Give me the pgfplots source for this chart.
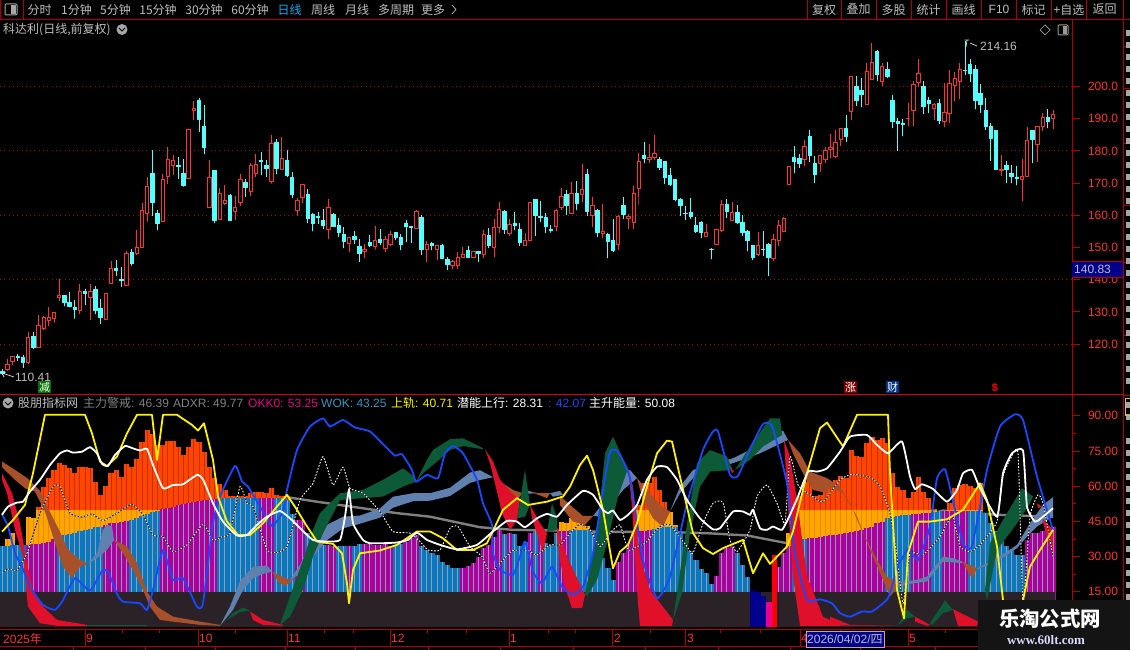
\documentclass[border=0pt]{standalone}
\usepackage{pgfplots}
\usepackage{pgfplotstable}
\usepackage{fontspec}
\pgfplotsset{compat=1.18}
\setmainfont{Liberation Sans}
\newfontfamily\cjk{Noto Sans CJK SC}
\definecolor{cr}{HTML}{FF3232}
\definecolor{cy}{HTML}{54FFFF}
\definecolor{fr}{HTML}{B00000}
\definecolor{lab}{HTML}{FF3030}
\definecolor{txt}{HTML}{BEBEBE}
\definecolor{rstripe}{HTML}{C03000}
\definecolor{rtop}{HTML}{FF4500}
\definecolor{ora}{HTML}{FFA500}
\definecolor{orb}{HTML}{E88A00}
\definecolor{bbar}{HTML}{0A78C0}
\definecolor{mbar}{HTML}{AC00A0}
\definecolor{stripe}{HTML}{8FA0AC}
\definecolor{base}{HTML}{2B2228}
\definecolor{rred}{HTML}{E0102A}
\definecolor{rgreen}{HTML}{0C5A38}
\definecolor{steel}{HTML}{6080B0}
\definecolor{brown}{HTML}{A8502A}
\definecolor{gline}{HTML}{808080}
\definecolor{bline}{HTML}{1848FF}
% candle: index, body top, body bottom, high, low
\newcommand\cd[7]{%
 \pgfmathsetmacro\xc{2.33+5.176*#3}\pgfmathsetmacro\xl{\xc-1.7}\pgfmathsetmacro\xr{\xc+1.7}%
 \addplot[draw=#1,fill=#2,line width=1pt,line join=bevel] coordinates {(\xc,#6)(\xc,#4)(\xr,#4)(\xr,#5)(\xc,#5)(\xc,#7)(\xc,#5)(\xl,#5)(\xl,#4)(\xc,#4)};}
\newcommand\R[5]{\cd{cr}{black}{#1}{#2}{#3}{#4}{#5}}
\newcommand\C[5]{\cd{cy}{cy}{#1}{#2}{#3}{#4}{#5}}
\newcommand\rib[2]{\addplot[fill=#1,draw=none] coordinates {#2} --cycle;}
\pgfplotstableread{
i T L k
0 34.3 34.3 0
1 37.4 34.5 0
2 39.9 34.8 0
3 35.0 35.0 0
4 35.0 35.0 0
5 47.0 35.0 1
6 46.3 35.3 1
7 51.3 35.4 1
8 59.8 35.7 1
9 63.4 36.2 1
10 66.9 37.4 1
11 69.8 38.8 0
12 69.1 39.2 0
13 67.6 39.7 0
14 65.5 40.2 0
15 68.1 40.8 0
16 68.1 41.2 0
17 67.6 41.8 0
18 61.7 42.4 0
19 56.3 42.8 0
20 60.1 43.5 1
21 65.5 44.1 1
22 66.9 44.3 1
23 63.8 44.8 1
24 69.5 45.1 1
25 68.1 45.6 0
26 71.5 46.5 0
27 79.0 47.3 0
28 84.0 48.2 0
29 82.1 48.9 0
30 77.6 49.5 0
31 77.6 50.2 1
32 79.3 50.7 1
33 79.3 51.3 1
34 76.9 51.9 1
35 73.3 52.3 1
36 76.6 52.7 1
37 80.1 53.1 1
38 79.0 53.6 1
39 74.7 54.0 1
40 68.3 54.3 1
41 63.4 54.6 1
42 61.0 54.7 0
43 58.4 54.9 0
44 55.6 55.0 0
45 55.6 55.1 0
46 55.8 55.1 0
47 55.8 55.1 0
48 57.0 55.1 0
49 57.4 55.1 0
50 57.4 55.1 1
51 57.0 55.1 1
52 59.1 55.1 1
53 56.1 55.1 0
54 55.8 54.9 0
55 55.3 54.1 0
56 48.2 48.2 0
57 45.6 45.6 1
58 45.6 45.6 1
59 39.9 39.9 0
60 35.4 35.4 0
61 35.0 35.0 0
62 35.0 35.0 0
63 35.0 35.0 1
64 34.5 34.5 1
65 34.5 34.5 0
66 34.5 34.5 0
67 34.5 34.5 1
68 34.5 34.5 0
69 35.4 35.4 0
70 35.4 35.4 1
71 35.3 35.3 1
72 34.8 34.8 1
73 35.0 35.0 1
74 35.4 35.4 1
75 34.5 34.5 1
76 35.0 35.0 0
77 35.4 35.4 0
78 36.4 36.4 1
79 37.8 37.8 1
80 39.2 39.2 1
81 34.3 34.3 0
82 32.6 32.6 0
83 31.7 31.7 0
84 30.7 30.7 0
85 27.9 27.9 0
86 26.5 26.5 0
87 25.3 25.3 0
88 25.0 25.0 0
89 25.3 25.3 1
90 26.0 26.0 1
91 27.2 27.2 1
92 30.0 30.0 1
93 33.6 33.6 1
94 35.0 35.0 1
95 38.5 38.5 1
96 41.4 41.4 1
97 39.7 39.7 0
98 39.9 39.9 1
99 39.7 39.7 0
100 34.3 34.3 0
101 36.4 36.4 0
102 40.2 40.2 1
103 40.7 40.7 0
104 38.5 38.5 1
105 35.7 35.7 0
106 35.0 35.0 0
107 39.9 39.9 0
108 44.6 41.1 1
109 44.2 41.1 1
110 46.3 41.2 0
111 45.3 41.4 0
112 44.2 41.4 0
113 43.2 41.4 0
114 39.9 39.9 0
115 31.4 31.4 0
116 29.3 29.3 0
117 25.0 25.0 0
118 20.1 20.1 0
119 27.9 27.9 1
120 31.4 31.4 1
121 35.7 35.7 1
122 39.9 39.9 1
123 52.0 40.7 1
124 61.2 40.9 1
125 61.2 41.4 1
126 64.1 41.6 0
127 58.4 42.1 0
128 53.4 42.5 0
129 49.2 42.8 0
130 43.5 42.8 0
131 39.9 39.9 0
132 34.0 34.0 0
133 32.4 32.4 0
134 28.6 28.6 0
135 24.6 24.6 0
136 22.9 22.9 0
137 18.4 18.4 0
138 21.8 21.8 1
139 31.4 31.4 1
140 33.6 33.6 1
141 34.3 34.3 1
142 31.4 31.4 0
143 26.5 26.5 0
144 21.5 21.5 0
145 0 0 0
146 0 0 0
147 0 0 0
148 0 0 0
149 0 0 0
150 25.7 25.7 1
151 31.4 31.4 1
152 39.9 34.3 1
153 44.9 37.1 0
154 55.6 37.1 0
155 61.9 37.5 0
156 64.1 37.8 1
157 55.6 38.1 1
158 56.3 38.5 1
159 59.5 38.8 1
160 59.5 39.1 1
161 62.7 39.4 1
162 64.4 39.7 1
163 63.4 39.9 1
164 75.4 40.4 1
165 72.9 40.8 1
166 72.6 41.4 1
167 78.3 42.1 1
168 81.1 42.8 1
169 79.7 44.2 1
170 80.4 44.9 1
171 78.3 46.3 0
172 65.5 47.0 0
173 59.8 47.3 0
174 58.4 47.6 0
175 54.9 47.8 0
176 57.7 48.2 1
177 63.8 48.3 1
178 57.7 48.5 1
179 54.9 48.7 1
180 50.2 49.2 0
181 49.6 49.3 0
182 49.6 49.6 1
183 52.7 49.6 1
184 59.1 49.6 1
185 60.5 49.6 1
186 61.0 49.6 1
187 60.1 49.6 0
188 59.1 49.6 0
189 61.2 49.6 0
190 48.5 48.5 0
191 44.2 44.2 0
192 40.7 40.7 0
193 37.8 37.8 0
194 34.3 34.3 0
195 32.8 32.8 0
196 30.7 30.7 0
197 30.7 30.7 0
198 37.1 37.1 1
199 39.9 39.9 1
200 40.2 40.2 1
201 40.7 40.7 1
202 42.1 42.1 1
203 42.8 42.8 1
}\bars
\begin{document}
\begin{tikzpicture}[x=1pt,y=1pt]
\path[use as bounding box] (0,0) rectangle (1130,650);
\fill[black] (0,0) rectangle (1130,650);
%%%%% price panel
\begin{axis}[at={(0pt,257pt)},anchor=south west,scale only axis,width=1072pt,height=373pt,
 xmin=0,xmax=1072,ymin=104.81,ymax=220.65,
 axis y line=right,axis x line=none,axis line style={-,draw=none},
 xtick=\empty,ytick={120,130,...,200},
 tick style={fr,line width=.8pt},major tick length=8pt,tick align=outside,
 yticklabel style={text=lab,font=\fontsize{12}{12}\selectfont,xshift=4.5pt},
 /pgf/number format/assume math mode=true,
 /pgf/number format/fixed,/pgf/number format/fixed zerofill,/pgf/number format/precision=1]
\foreach \v in {120,140,160,180,200}{
 \edef\tmp{\noexpand\addplot[color=fr,line width=.8pt,dash pattern=on 1pt off 3.3pt] coordinates {(0,\v)(1072,\v)};}\tmp}
\C{0}{111.6}{110.9}{112.2}{110.4}
\R{1}{113.7}{112.2}{115.3}{111.7}
\R{2}{116.0}{114.5}{116.4}{113.5}
\C{3}{116.1}{115.9}{116.8}{114.8}
\C{4}{115.7}{114.4}{116.5}{112.6}
\R{5}{122.1}{114.2}{123.6}{113.8}
\C{6}{122.5}{118.8}{123.6}{118.5}
\R{7}{125.8}{118.9}{129.0}{118.9}
\R{8}{128.3}{124.8}{128.7}{124.4}
\R{9}{128.3}{127.3}{131.4}{125.6}
\R{10}{129.9}{128.0}{129.9}{126.7}
\R{11}{135.1}{134.4}{140.1}{133.4}
\C{12}{135.2}{132.8}{135.2}{131.8}
\C{13}{133.0}{131.8}{136.2}{131.5}
\C{14}{131.4}{130.7}{133.7}{127.9}
\R{15}{136.4}{130.5}{138.6}{129.3}
\C{16}{136.2}{135.7}{137.2}{132.1}
\R{17}{136.4}{134.4}{138.6}{127.5}
\C{18}{137.0}{130.4}{137.9}{129.3}
\C{19}{131.1}{128.4}{133.9}{126.3}
\R{20}{135.8}{127.6}{135.8}{127.6}
\R{21}{143.5}{138.9}{145.7}{138.7}
\C{22}{143.6}{143.0}{146.1}{141.1}
\C{23}{140.2}{139.7}{143.9}{137.8}
\R{24}{148.2}{138.1}{148.8}{138.1}
\C{25}{148.3}{144.9}{149.4}{144.4}
\R{26}{150.0}{148.1}{155.4}{147.7}
\R{27}{161.5}{149.9}{163.8}{149.9}
\R{28}{169.0}{160.5}{171.8}{158.0}
\C{29}{173.1}{163.9}{180.2}{159.8}
\C{30}{160.7}{157.3}{161.5}{155.4}
\R{31}{171.2}{158.0}{172.8}{158.0}
\R{32}{177.4}{172.0}{181.2}{169.7}
\R{33}{177.1}{175.4}{178.7}{172.5}
\C{34}{175.6}{175.0}{178.1}{171.3}
\C{35}{173.1}{169.4}{177.5}{168.9}
\R{36}{186.7}{171.4}{186.7}{171.4}
\R{37}{193.2}{192.5}{195.5}{189.6}
\C{38}{195.5}{189.9}{196.3}{185.9}
\C{39}{187.7}{180.9}{194.2}{179.0}
\R{40}{171.6}{162.4}{177.2}{162.4}
\C{41}{173.9}{158.5}{174.1}{157.6}
\R{42}{166.8}{158.6}{168.5}{158.6}
\R{43}{164.6}{163.8}{169.4}{163.2}
\C{44}{166.0}{158.5}{166.6}{158.3}
\R{45}{162.5}{161.1}{166.0}{158.5}
\R{46}{171.2}{163.9}{172.8}{162.9}
\C{47}{170.3}{168.5}{171.2}{165.7}
\R{48}{175.5}{167.3}{176.1}{166.0}
\R{49}{175.9}{172.9}{179.0}{171.9}
\C{50}{177.0}{176.7}{179.6}{172.5}
\C{51}{175.6}{174.4}{177.2}{171.9}
\R{52}{182.4}{170.4}{184.9}{169.8}
\C{53}{182.5}{174.4}{183.7}{172.8}
\R{54}{177.7}{174.2}{184.2}{174.2}
\C{55}{177.1}{172.5}{180.3}{171.9}
\C{56}{171.6}{166.6}{173.4}{165.4}
\R{57}{164.7}{161.4}{165.3}{159.9}
\R{58}{169.6}{165.4}{169.6}{163.8}
\C{59}{166.3}{158.9}{168.2}{157.6}
\C{60}{160.1}{157.3}{160.7}{155.1}
\C{61}{159.5}{159.3}{161.0}{157.3}
\C{62}{158.5}{156.7}{162.0}{155.7}
\R{63}{162.5}{155.5}{165.0}{152.6}
\C{64}{160.1}{156.4}{160.7}{156.4}
\C{65}{156.7}{154.5}{159.2}{153.3}
\C{66}{153.9}{152.0}{156.4}{149.8}
\R{67}{153.2}{151.1}{153.2}{148.6}
\C{68}{153.3}{152.6}{155.1}{151.1}
\C{69}{150.2}{148.0}{152.6}{145.5}
\R{70}{149.4}{148.7}{151.1}{146.7}
\C{71}{151.7}{150.5}{153.9}{150.2}
\R{72}{152.2}{150.2}{156.7}{149.2}
\C{73}{152.6}{151.4}{155.7}{150.8}
\R{74}{152.5}{149.8}{153.6}{148.6}
\R{75}{154.1}{150.8}{155.0}{150.5}
\C{76}{154.5}{153.0}{154.8}{152.3}
\C{77}{153.0}{150.8}{154.2}{149.2}
\C{78}{157.6}{156.4}{158.5}{151.7}
\C{79}{156.4}{156.2}{156.7}{151.4}
\R{80}{161.3}{155.8}{161.6}{155.8}
\C{81}{159.2}{149.5}{160.1}{147.7}
\R{82}{151.0}{149.3}{151.9}{145.5}
\C{83}{151.1}{150.5}{151.7}{149.2}
\R{84}{150.7}{149.3}{150.7}{146.1}
\C{85}{150.5}{146.7}{151.1}{146.4}
\C{86}{146.4}{144.6}{147.0}{143.0}
\R{87}{145.8}{144.3}{146.1}{143.3}
\R{88}{147.0}{144.4}{148.6}{143.3}
\R{89}{147.9}{147.0}{150.2}{146.7}
\C{90}{149.2}{147.0}{150.5}{146.7}
\R{91}{148.6}{146.8}{148.9}{146.7}
\C{92}{148.6}{148.0}{148.9}{145.5}
\R{93}{154.1}{147.8}{155.4}{146.7}
\C{94}{153.6}{150.5}{156.1}{149.8}
\R{95}{156.3}{150.0}{158.9}{147.0}
\R{96}{161.8}{156.2}{164.1}{154.5}
\C{97}{161.3}{155.5}{161.6}{154.2}
\R{98}{157.2}{154.2}{158.9}{153.6}
\C{99}{157.3}{156.7}{161.0}{155.4}
\C{100}{155.7}{151.7}{157.6}{150.5}
\R{101}{152.2}{150.6}{154.5}{150.6}
\R{102}{164.1}{152.3}{164.1}{152.3}
\C{103}{164.8}{159.8}{164.8}{153.6}
\C{104}{159.5}{159.2}{164.4}{157.9}
\C{105}{159.2}{156.4}{160.7}{154.5}
\C{106}{155.7}{155.2}{157.0}{154.5}
\R{107}{161.6}{156.5}{161.9}{155.1}
\R{108}{165.9}{162.4}{168.5}{161.6}
\C{109}{166.3}{162.9}{167.9}{160.1}
\R{110}{166.8}{160.5}{170.3}{160.4}
\C{111}{166.9}{163.8}{170.6}{161.6}
\R{112}{167.9}{166.4}{175.9}{164.1}
\C{113}{172.8}{161.3}{174.4}{159.8}
\R{114}{162.9}{159.9}{165.7}{156.4}
\C{115}{161.6}{154.8}{161.9}{153.3}
\R{116}{155.0}{154.3}{163.5}{152.9}
\C{117}{153.9}{152.0}{154.5}{146.7}
\C{118}{152.3}{149.2}{158.9}{148.6}
\R{119}{159.5}{150.8}{160.1}{149.2}
\C{120}{162.9}{160.1}{165.7}{158.9}
\R{121}{159.5}{158.9}{160.4}{155.7}
\R{122}{166.9}{157.7}{169.1}{155.7}
\R{123}{176.8}{168.2}{179.3}{163.2}
\C{124}{178.7}{177.5}{182.8}{176.2}
\R{125}{178.1}{177.3}{182.1}{176.2}
\R{126}{179.3}{177.9}{184.9}{177.2}
\C{127}{177.2}{174.7}{178.1}{174.1}
\C{128}{176.6}{171.6}{176.6}{169.7}
\C{129}{172.5}{169.7}{174.7}{169.1}
\C{130}{171.0}{164.8}{171.0}{164.4}
\C{131}{164.8}{162.9}{165.4}{159.8}
\C{132}{160.7}{160.4}{162.9}{158.5}
\C{133}{161.0}{159.5}{165.4}{158.9}
\C{134}{156.7}{155.1}{159.5}{154.5}
\C{135}{157.9}{154.5}{158.2}{152.9}
\R{136}{154.5}{153.3}{157.3}{153.3}
\C{137}{149.5}{149.4}{149.8}{146.4}
\R{138}{155.7}{150.8}{155.7}{150.8}
\R{139}{163.2}{155.4}{164.8}{154.8}
\C{140}{163.2}{161.3}{165.0}{159.2}
\R{141}{161.0}{158.5}{164.1}{158.5}
\C{142}{161.0}{157.9}{163.2}{157.3}
\C{143}{157.9}{154.8}{160.1}{153.6}
\C{144}{155.1}{152.3}{155.4}{148.9}
\C{145}{150.5}{147.0}{150.8}{146.1}
\R{146}{150.5}{147.7}{154.8}{147.4}
\C{147}{149.5}{149.3}{155.1}{147.4}
\C{148}{150.8}{147.0}{151.4}{141.2}
\R{149}{152.6}{146.7}{154.2}{145.8}
\R{150}{156.7}{152.3}{158.5}{150.5}
\R{151}{158.9}{154.9}{159.5}{154.8}
\R{152}{175.0}{169.7}{175.0}{169.7}
\C{153}{177.8}{176.6}{181.5}{173.1}
\C{154}{177.5}{176.2}{179.0}{174.7}
\R{155}{181.5}{177.2}{183.4}{175.3}
\C{156}{184.6}{178.7}{186.5}{176.6}
\C{157}{176.2}{172.8}{178.4}{170.0}
\R{158}{178.6}{176.2}{178.6}{173.5}
\R{159}{180.2}{177.2}{181.2}{176.2}
\R{160}{181.2}{180.3}{185.3}{177.8}
\R{161}{182.5}{178.4}{186.5}{177.8}
\R{162}{186.8}{183.4}{186.8}{181.5}
\C{163}{186.8}{184.6}{191.2}{182.8}
\R{164}{203.2}{192.1}{203.2}{189.6}
\C{165}{199.9}{195.8}{203.3}{194.0}
\C{166}{198.9}{197.4}{202.6}{193.6}
\R{167}{204.8}{194.3}{207.3}{194.3}
\R{168}{207.3}{202.3}{213.5}{202.3}
\C{169}{211.0}{203.6}{211.3}{201.7}
\R{170}{206.1}{201.7}{207.3}{200.2}
\C{171}{205.4}{203.0}{207.6}{202.6}
\C{172}{195.8}{189.0}{197.4}{187.1}
\C{173}{189.0}{188.4}{190.2}{180.0}
\C{174}{188.4}{188.2}{189.9}{184.6}
\R{175}{190.2}{190.0}{194.9}{187.7}
\R{176}{200.7}{192.4}{201.7}{187.7}
\R{177}{203.9}{201.1}{208.5}{199.9}
\C{178}{199.9}{193.9}{201.7}{191.5}
\C{179}{195.8}{194.6}{196.7}{191.8}
\R{180}{194.3}{193.3}{194.9}{189.6}
\C{181}{194.6}{189.3}{196.1}{188.4}
\R{182}{192.0}{189.0}{201.1}{187.4}
\R{183}{200.8}{191.5}{205.1}{188.7}
\R{184}{202.6}{200.2}{204.5}{195.5}
\R{185}{205.4}{201.4}{207.3}{196.1}
\C{186}{205.1}{204.9}{214.16}{203.6}
\C{187}{206.7}{203.9}{208.5}{201.4}
\C{188}{205.4}{195.5}{206.7}{193.0}
\C{189}{197.7}{194.3}{200.8}{191.8}
\C{190}{192.4}{187.7}{196.4}{186.5}
\C{191}{187.7}{184.0}{188.7}{176.9}
\C{192}{186.2}{174.1}{186.5}{174.1}
\R{193}{174.1}{173.9}{178.7}{172.2}
\C{194}{175.6}{174.1}{176.9}{170.0}
\C{195}{173.1}{171.9}{175.6}{170.0}
\C{196}{171.6}{171.4}{175.3}{169.4}
\R{197}{172.1}{171.1}{177.5}{164.4}
\R{198}{183.3}{172.0}{187.4}{172.0}
\C{199}{186.2}{183.4}{186.2}{176.2}
\R{200}{187.6}{182.0}{187.6}{176.6}
\R{201}{190.4}{187.6}{191.8}{186.2}
\C{202}{190.5}{189.0}{193.0}{187.1}
\R{203}{191.4}{190.0}{192.7}{186.8}
\end{axis}
%%%%% indicator panel
\begin{axis}[at={(0pt,23pt)},anchor=south west,scale only axis,width=1072pt,height=231pt,
 xmin=0,xmax=1072,ymin=0,ymax=98.42,
 axis y line=right,axis x line=none,axis line style={-,draw=none},
 xtick=\empty,ytick={15,30,...,90},minor y tick num=1,
 tick style={fr,line width=.8pt},major tick length=8pt,minor tick length=4pt,tick align=outside,
 yticklabel style={text=lab,font=\fontsize{12}{12}\selectfont,xshift=4.5pt},
 /pgf/number format/assume math mode=true,
 /pgf/number format/fixed,/pgf/number format/fixed zerofill,/pgf/number format/precision=2]
% slow gray line
\addplot[color=gline,line width=2.4pt] coordinates {(227,55.3)(287,55.3)(323,53)(397,48.5)(430,47)(480,42.5)(513,41.4)(557,41.1)(607,40.5)(660,40.6)(710,39.9)(747,39)(787,35.7)(860,40)(943,49.6)(997,47.8)(1053,47)};
% stacked columns
\addplot[ycomb,color=rtop,line width=5.2pt] table[x expr=2.33+5.176*\thisrow{i},y=T] {\bars};
\addplot[ycomb,color=rstripe,line width=1pt] table[x expr=2.33+5.176*\thisrow{i},y=T] {\bars};
\addplot[ycomb,color=ora,line width=5.2pt] table[x expr=2.33+5.176*\thisrow{i},y expr={min(\thisrow{T},50)}] {\bars};
\addplot[ycomb,color=orb,line width=1pt] table[x expr=2.33+5.176*\thisrow{i},y expr={min(\thisrow{T},50)}] {\bars};
\addplot[ycomb,color=bbar,line width=5.2pt] table[x expr=2.33+5.176*\thisrow{i},y expr=\thisrow{L}*(1-\thisrow{k})] {\bars};
\addplot[ycomb,color=mbar,line width=5.2pt] table[x expr=2.33+5.176*\thisrow{i},y expr=\thisrow{L}*\thisrow{k}] {\bars};
\addplot[ycomb,color=stripe,line width=1pt] table[x expr=2.33+5.176*\thisrow{i},y=L] {\bars};
\addplot[fill=base,draw=none] coordinates {(0,0)(0,15)(1055,15)(1055,0)} --cycle;
\addplot[ycomb,color=blue!55!black,line width=5.2pt] coordinates {(753,15.4)(758.2,14.7)(763.4,13.0)};
\addplot[ycomb,color=magenta,line width=5.6pt] coordinates {(768.9,10.8)};
\addplot[ycomb,color=red,line width=5.4pt] coordinates {(774.5,30.7)};
% brown / steel ribbon
\rib{brown}{(2,70.5)(13,67.5)(27,63.5)(40,58)(50,49)(60,40.5)(68,33)(80,28.5)(88,26.9)(80,25.7)(72,20.8)(63,25.7)(53,38.5)(45,49.2)(35,57.7)(25,59.1)(15,62.7)(2,68.1)}
\rib{steel}{(88,26.9)(97,31.4)(103,41.4)(107,43.5)(112,42.9)(114,37.1)(107,32.8)(97,29.3)}
\rib{brown}{(114,37.1)(127,34.3)(137,27.2)(147,15.1)(157,8.7)(173,4.4)(200,2.3)(220,0.9)(220,0.5)(200,0.9)(173,2.3)(160,3)(150,8.7)(143,15.8)(133,24.3)(123,31.4)}
\rib{steel}{(220,0.5)(230,8.7)(240,19.4)(253,25.7)(267,26.2)(272,23.6)(263,22.6)(253,20.8)(243,15.8)(233,7.3)}
\rib{brown}{(272,23.6)(280,21.8)(290,20.1)(295,20.8)(285,17.5)(278,19.4)}
\rib{steel}{(290,20.1)(300,26.5)(313,38)(327,43.5)(343,47)(360,47.5)(380,50.5)(393,55.5)(413,57)(430,57)(450,59.3)(470,65.8)(480,66.8)(493,63.8)(480,62.6)(470,61.4)(450,55.8)(430,53.8)(413,53.6)(393,50.8)(380,46.6)(360,44)(343,42)(327,37)(313,30)(300,22.6)}
\rib{brown}{(493,63.8)(513,58.4)(525,56.7)(525,58.4)(517,54.1)(507,58.4)}
\rib{steel}{(525,58.4)(537,57)(525,56.7)}
\rib{brown}{(530,57.7)(547,54.9)(550,57)(537,57)}
\rib{steel}{(550,57)(560,58)(563,56.3)(553,55.5)}
\rib{brown}{(560,55.8)(570,52)(583,47.3)(593,47.3)(585,43.5)(573,44.9)(565,49.2)(560,52)}
\rib{steel}{(593,47.3)(603,52.7)(617,64.1)(630,66.9)(637,63.4)(623,58.4)(610,51.3)(602,47)}
\rib{brown}{(637,63.4)(650,57)(660,52)(670,49.2)(663,42.8)(653,46.3)(643,54.1)}
\rib{steel}{(670,49.2)(680,59.8)(693,66.9)(710,69)(733,71.9)(760,77.6)(783,83.7)(788,79.7)(760,74)(733,69.8)(710,66.9)(693,63.4)(680,57)}
\rib{brown}{(788,79.7)(800,74)(810,66.2)(827,63.4)(840,59.8)(850,52.7)(863,40)(877,28.6)(887,21.5)(897,19.4)(898,17.2)(890,13)(883,20.1)(870,32.8)(857,47)(843,57)(830,59.8)(827,57)(813,58.4)(803,65.5)(793,74)}
\rib{steel}{(898,19.4)(908,19.4)(918,20.3)(927,21.5)(943,30)(953,29.3)(962,27.9)(962,27.2)(943,27.9)(927,19.4)(910,18.4)(898,17.2)}
\rib{brown}{(962,27.9)(977,25)(972,20.8)}
\rib{steel}{(977,25)(997,29.3)(1017,35)(1030,44.2)(1043,52)(1053,55.3)(1053,47)(1037,42.8)(1027,38.5)(1017,33.6)(997,27.9)(977,24.6)}
% green / red ribbon
\rib{rred}{(2,65.5)(12,57)(20,44.2)(27,27.2)(33,15.8)(43,8.7)(57,3)(87,0.9)(87,0.5)(57,0.5)(40,1.6)(28,8.7)(23,30)(15,41.4)(7,57)(2,62.7)}
\rib{rgreen}{(87,0.9)(147,0.9)(147,0.4)(87,0.4)}
\rib{rgreen}{(222,0.9)(233,5.9)(243,8.3)(250,7)(240,6.4)(227,3)}
\rib{rred}{(250,6.6)(263,3)(283,0.9)(283,0.5)(263,0.9)(253,3)}
\rib{rgreen}{(280,0.9)(290,13)(303,28.6)(313,41.4)(320,48.5)(340,57)(363,58.4)(383,62.7)(403,67.6)(413,64.4)(416,62)(403,59.8)(383,55.6)(363,54.9)(340,54.1)(323,39.9)(313,30)(303,15.8)(290,4.4)}
\rib{rgreen}{(416,62)(427,71.2)(433,75.4)(450,80)(463,80.4)(483,76.2)(483,75.7)(463,77.1)(450,75.4)(437,70.5)(423,65.5)}
\rib{rred}{(485,75.7)(493,70.5)(500,62.7)(512,57)(520,54.1)(517,45.6)(510,41.4)(502,48.5)(495,61.2)(490,69.8)}
\rib{rgreen}{(520,54.1)(525,66.9)(530,52)(525,47)(517,46.3)}
\rib{rred}{(530,52)(540,44.2)(547,39.9)(543,31.4)(537,39.9)(532,46.3)}
\rib{rgreen}{(547,40.5)(552,52.7)(557,46.3)(557,41.4)}
\rib{rred}{(557,42.8)(567,30)(585,13.7)(582,8)(572,8)(565,17.2)(560,28.6)(557,38.5)}
\rib{rgreen}{(585,13.7)(597,41.4)(605,74)(613,81.1)(622,72.6)(628,67.6)(618,55.6)(607,35.7)(597,20.1)(587,13.2)}
\rib{rred}{(628,68.1)(633,59.8)(640,30)(650,15.8)(673,3)(672,0.5)(640,0.5)(638,10.1)(635,30)(632,51.3)}
\rib{rgreen}{(673,3)(677,14.4)(687,44.2)(697,69.8)(710,75.4)(727,72.6)(732,67.6)(732,66.9)(710,66.2)(700,59.8)(690,40)(682,14.4)}
\rib{rred}{(730,68.3)(734,66.2)(732,65.5)}
\rib{rgreen}{(735,66.9)(750,76.9)(770,88.9)(780,88.9)(782,82.5)(782,81.8)(763,76.9)(750,71.2)}
\rib{rred}{(784,79.7)(790,72.6)(797,54.1)(807,21.5)(823,4.4)(840,0.9)(840,0.5)(800,0.5)(793,21.5)(788,51.3)}
\rib{rred}{(830,4.4)(850,0.9)(897,0.6)(830,0.6)}
\rib{rgreen}{(898,0.9)(907,7.3)(915,4.4)(907,3.7)}
\rib{rred}{(915,4.4)(930,0.9)(927,0.5)(915,2.3)}
\rib{rgreen}{(930,1.6)(945,11.3)(953,7.3)(943,5.9)(932,0.9)}
\rib{rred}{(953,7.6)(978,2.3)(977,0.5)(958,0.5)}
\rib{rgreen}{(985,15.8)(990,35.7)(1003,45.6)(1022,59.1)(1033,55.6)(1030,52.7)(1017,44.2)(1007,38.5)(997,32.8)(987,11.5)}
\rib{rred}{(1037,52.7)(1042,51.3)(1038,50.6)}
\rib{rred}{(1042,46.3)(1053,41.4)(1053,30)(1045,41.4)}
% dashed line
\addplot[color=black,line width=.9pt,smooth,tension=.3] coordinates {(2,23.2)(8,24.7)(17,24.3)(27,31.4)(40,48.5)(53,59.8)(60,59.8)(70,48.5)(82,46.8)(92,48.2)(103,45.3)(117,48.5)(132,52.3)(143,47.8)(153,39.2)(163,38.5)(173,32.1)(187,35)(203,43.8)(213,37.1)(222,38.5)(230,39.9)(240,59.8)(247,52.7)(253,51.3)(267,32.8)(277,31.8)(287,34.3)(300,54.1)(313,61.2)(323,72.6)(333,60.5)(343,68.1)(350,59.1)(363,57)(380,49.2)(393,40.7)(410,40)(420,36.4)(428,32.8)(440,32.8)(450,42.1)(458,42.8)(470,34.3)(482,30)(490,22.9)(503,28.6)(513,32.6)(528,32.6)(537,30.7)(550,35)(560,35)(570,39.9)(580,43.8)(590,41.4)(600,34.3)(610,39.9)(620,43.5)(628,32.8)(637,34.3)(645,35.7)(660,42.8)(670,43.5)(687,34.3)(693,31.4)(703,44.2)(713,52.7)(723,53)(730,37.1)(737,32.1)(750,41.4)(757,55.6)(767,60.5)(777,52.7)(785,44.2)(790,72.6)(798,60.5)(808,57)(823,53.4)(840,62.7)(852,65.1)(870,63.8)(880,59.8)(890,48.5)(897,30)(903,10.1)(910,31.4)(923,30.7)(940,38.5)(947,44.2)(953,47)(960,34.3)(970,32.1)(980,35)(997,44.9)(1003,64.1)(1010,71.2)(1018,74)(1023,10.1)(1030,47)(1038,56.3)(1043,52.7)(1053,30)};
\addplot[color=white,line width=.9pt,smooth,tension=.3,dash pattern=on 1.6pt off 1.6pt] coordinates {(2,23.2)(8,24.7)(17,24.3)(27,31.4)(40,48.5)(53,59.8)(60,59.8)(70,48.5)(82,46.8)(92,48.2)(103,45.3)(117,48.5)(132,52.3)(143,47.8)(153,39.2)(163,38.5)(173,32.1)(187,35)(203,43.8)(213,37.1)(222,38.5)(230,39.9)(240,59.8)(247,52.7)(253,51.3)(267,32.8)(277,31.8)(287,34.3)(300,54.1)(313,61.2)(323,72.6)(333,60.5)(343,68.1)(350,59.1)(363,57)(380,49.2)(393,40.7)(410,40)(420,36.4)(428,32.8)(440,32.8)(450,42.1)(458,42.8)(470,34.3)(482,30)(490,22.9)(503,28.6)(513,32.6)(528,32.6)(537,30.7)(550,35)(560,35)(570,39.9)(580,43.8)(590,41.4)(600,34.3)(610,39.9)(620,43.5)(628,32.8)(637,34.3)(645,35.7)(660,42.8)(670,43.5)(687,34.3)(693,31.4)(703,44.2)(713,52.7)(723,53)(730,37.1)(737,32.1)(750,41.4)(757,55.6)(767,60.5)(777,52.7)(785,44.2)(790,72.6)(798,60.5)(808,57)(823,53.4)(840,62.7)(852,65.1)(870,63.8)(880,59.8)(890,48.5)(897,30)(903,10.1)(910,31.4)(923,30.7)(940,38.5)(947,44.2)(953,47)(960,34.3)(970,32.1)(980,35)(997,44.9)(1003,64.1)(1010,71.2)(1018,74)(1023,10.1)(1030,47)(1038,56.3)(1043,52.7)(1053,30)};
% blue line
\addplot[color=bline,line width=1.8pt,smooth,tension=.3] coordinates {(2,48.2)(8,42.8)(15,31.4)(22,25.7)(30,17.2)(43,9.4)(55,7.3)(63,11.5)(75,20.8)(90,15.5)(102,23.9)(108,23.6)(117,14.1)(123,10.8)(140,10.1)(147,7.3)(153,15.8)(163,32.6)(173,20.1)(183,20.8)(197,8.7)(203,10.1)(213,44.2)(220,55.6)(235,68.6)(242,62)(248,59.8)(260,51.3)(272,43.1)(283,49.2)(287,58.4)(297,75.4)(310,85.4)(323,88.9)(330,85.4)(343,88.2)(355,85)(370,83.3)(387,76.2)(395,73)(402,73.6)(412,66.9)(416,61.9)(427,64.8)(438,63.4)(445,74)(453,77.1)(463,74)(477,62.7)(483,52.7)(492,43.5)(493,31.4)(500,24.3)(513,22.2)(520,30)(525,36.4)(533,23.6)(542,18.6)(552,25.7)(562,17.2)(573,13.7)(583,17.2)(593,31.4)(603,58.4)(610,74.7)(618,74.7)(630,63.4)(643,28.6)(657,12.3)(670,21.5)(687,52.7)(703,75.4)(713,83.3)(718,83.3)(730,64.8)(738,64.4)(752,77.6)(763,86.4)(772,85.7)(787,61.2)(795,31.4)(807,11.5)(820,11.8)(832,10.1)(840,5.9)(850,4.4)(862,6.6)(872,6.6)(888,12.3)(898,25.7)(908,33.1)(918,28.6)(930,42.8)(937,63.4)(945,67.2)(952,55.6)(963,35.7)(972,34.5)(987,66.9)(1000,85.4)(1015,90.6)(1023,88.2)(1037,64.1)(1053,41.4)};
% yellow line
\addplot[color=yellow,line width=1.8pt,line join=round] coordinates {(2,40.6)(13,45.6)(25,52)(33,65.5)(45,90.4)(85,90.4)(92,82.5)(100,70.5)(107,68.6)(117,72.6)(127,82.5)(137,90.4)(152,90.4)(157,71.2)(163,90.4)(177,90.4)(192,86.1)(198,83.7)(204,86.8)(213,71.2)(218,55.6)(227,44.9)(238,39.2)(250,39.2)(263,44.2)(277,51.3)(287,56.3)(297,49.9)(305,44.2)(317,36.4)(333,35.4)(342,31.4)(347,18.6)(349,10.1)(353,24.3)(360,31.4)(380,32.6)(397,35)(417,40.7)(430,40.7)(443,37.8)(457,32.8)(473,32.8)(487,35.7)(503,49.9)(517,54.9)(528,52)(547,53.4)(563,55.6)(570,59.8)(580,69)(587,73)(593,66.9)(603,49.9)(613,25)(620,32.1)(628,35)(637,44.2)(647,59.8)(657,74)(667,79.4)(672,79)(680,64.1)(693,40)(703,33.6)(713,31.1)(723,33.6)(743,37.1)(753,22.9)(763,31.4)(770,26.9)(787,34.3)(793,40.7)(807,65.5)(820,84.7)(827,87.1)(843,76.9)(857,90.4)(888,90.4)(890,65.5)(897,15.8)(904,3.7)(908,31.4)(918,44.9)(930,44.9)(947,45.9)(963,49.9)(980,61.2)(987,54.1)(997,34.3)(1003,11.5)(1017,0.5)(1023,11.5)(1030,25.7)(1040,32.8)(1053,41.4)};
% white line
\addplot[color=white,line width=1.8pt,smooth,tension=.3] coordinates {(2,47.8)(8,51.3)(17,53)(23,53.4)(30,57.7)(40,62.7)(50,69)(60,74)(67,75.2)(73,74.3)(82,74.7)(90,76.6)(97,74)(102,69.5)(108,68.6)(115,73.3)(125,77.1)(133,76.1)(140,75.2)(147,75.9)(153,69)(163,59.1)(173,60.5)(183,60.8)(197,64.8)(203,62.9)(213,52.7)(223,44.9)(237,39)(247,39.2)(257,43.5)(267,47)(280,49.4)(290,46.3)(300,42.1)(313,37.1)(327,36.4)(340,37.1)(345,47)(349,58.4)(353,44.2)(363,37.1)(370,35.7)(383,35.7)(397,36)(408,37.1)(417,40.2)(427,37.1)(440,35)(457,33.1)(477,35)(493,40.7)(507,45.2)(517,44.9)(525,42.5)(537,46.3)(547,48.2)(557,47)(567,52)(583,58)(593,56.3)(603,49.9)(608,48.5)(613,49.6)(620,45.6)(628,47.8)(637,52)(647,62.7)(657,68.3)(667,68.1)(677,62.7)(687,54.1)(700,46.3)(713,41.6)(720,42.1)(733,49.2)(743,49.2)(750,47.8)(753,49.9)(760,42.1)(767,41.4)(773,42.8)(782,41.4)(790,47.8)(798,55.6)(808,66.2)(817,66.2)(827,67.6)(840,74.7)(850,81.1)(867,81.8)(877,77.6)(888,74)(902,79)(910,64.1)(915,58.8)(922,60.8)(933,58.8)(947,53.4)(957,58.4)(963,65.5)(972,66.9)(980,59.1)(997,47)(1003,65.5)(1012,74)(1023,75.2)(1027,51.3)(1035,44.9)(1043,47)(1053,50.6)};
\end{axis}
%%%%% chrome
\begin{scope}[yshift=650pt,y=-1pt]
\newcommand\tl[4]{\node[anchor=west,inner sep=0pt,text=#1,font=\fontsize{12}{14}\selectfont] at (#2,#3) {#4};}
\newcommand\tc[4]{\node[inner sep=0pt,text=#1,font=\fontsize{12}{14}\selectfont] at (#2,#3) {#4};}
% frame lines
\draw[fr,line width=.9pt] (0,19.5)--(1130,19.5);
\draw[fr,line width=.9pt] (23.4,0)--(23.4,19.5) (0.5,0)--(0.5,19.5);
\foreach \x in {807,841,876,911,946,981,1016,1051.5,1086.5,1123} \draw[fr,line width=.9pt] (\x,0)--(\x,19.5);
\draw[fr,line width=1pt] (1072,19.5)--(1072,630);
\draw[fr,line width=1pt] (1123,19.5)--(1123,650);
\draw[red!85!black,line width=1.2pt] (0,394.5)--(1123,394.5);
\draw[fr,line width=1pt] (0,630)--(1123,630) (0,647)--(1123,647);
\foreach \x in {85,198,287,390,509,612.7,685.7,800,908} \draw[fr,line width=.9pt] (\x,630)--(\x,647);
\foreach \x in {122,159,235,324,353,427,466,548,575,650,720,760,840,880,945} \draw[fr,line width=.8pt] (\x,630)--(\x,633);
\foreach \x in {73,145,215,285,355,428,500,573,645,718,790,860,935} \draw[fr,line width=.8pt] (\x,647)--(\x,650);
\foreach \y in {46,88,143,205,262,335,395} \draw[fr,line width=.9pt] (1123,\y)--(1130,\y);
\foreach \y in {30,42,54,66,78,90,102,114,126,138,150,162,174,186,198,210,222,234,246,258,270,282,294,306,318,330,342,354,366,378,402,414,438,450,462,474,486,498,510,522,534,546,558,570,582,594}
 \fill[gray!70] (1125.5,\y) rectangle (1130,\y+6);
\draw[yellow!80!black,line width=.8pt] (1125.5,398)--(1130,398)--(1130,415)--(1125.5,415)--cycle;
% top bar
\draw[gray!70,line width=1pt,rounded corners=1pt] (5,4)rectangle(17,15);
\fill[gray!70] (11,5) rectangle (16,14);
\tc{txt}{39.5}{9.5}{\cjk 分时}
\tc{txt}{76.5}{9.5}{\cjk 1分钟}
\tc{txt}{115.5}{9.5}{\cjk 5分钟}
\tc{txt}{158}{9.5}{\cjk 15分钟}
\tc{txt}{204}{9.5}{\cjk 30分钟}
\tc{txt}{250}{9.5}{\cjk 60分钟}
\tc{cyan}{289.5}{9.5}{\cjk 日线}
\tc{txt}{323}{9.5}{\cjk 周线}
\tc{txt}{357}{9.5}{\cjk 月线}
\tc{txt}{396}{9.5}{\cjk 多周期}
\tc{txt}{433}{9.5}{\cjk 更多}
\draw[txt,line width=.7pt] (452,5)--(456,9.5)--(452,14);
\tc{txt}{824}{9.5}{\cjk 复权}
\tc{txt}{858.5}{9.5}{\cjk 叠加}
\tc{txt}{893.5}{9.5}{\cjk 多股}
\tc{txt}{928.5}{9.5}{\cjk 统计}
\tc{txt}{963.5}{9.5}{\cjk 画线}
\tc{txt}{999}{9.5}{F10}
\tc{txt}{1033.5}{9.5}{\cjk 标记}
\tc{txt}{1069}{9.5}{\cjk +自选}
\tc{txt}{1104.5}{9.5}{\cjk 返回}
% title
\tl{txt}{3}{29.5}{\cjk 科达利(日线,前复权)}
\fill[gray!70] (122,29.5) circle (5.5);
\draw[black,line width=1pt] (119,28)--(122,31)--(125,28);
\draw[gray!70,line width=.7pt] (1045,25)--(1050,30)--(1045,35)--(1040,30)--cycle;
\draw[gray!80,line width=1pt,rounded corners=1pt] (1058,25)rectangle(1068,35);
\fill[gray!80] (1063,26) rectangle (1067,34);
% extrema and tags
\draw[white!70!gray,line width=.7pt] (964.5,40)--(969,40) (967,40)--(966,47) (970,43)--(977,46);
\tl{txt}{980}{46}{214.16}
\draw[white!70!gray,line width=.7pt] (2,373)--(14,377) (2,373)--(6,372) (2,373)--(4,377);
\tl{txt}{15}{377}{110.41}
\fill[green!45!black] (38,381) rectangle (51,393);
\node[text=white,inner sep=0pt,font=\fontsize{11}{12}\selectfont] at (44.5,387) {\cjk 减};
\fill[red!50!black] (844,381) rectangle (857,393);
\node[text=white,inner sep=0pt,font=\fontsize{11}{12}\selectfont] at (850.5,387) {\cjk 涨};
\fill[blue!40!black!80!cyan] (886,381) rectangle (899,393);
\node[text=white,inner sep=0pt,font=\fontsize{11}{12}\selectfont] at (892.5,387) {\cjk 财};
\node[text=red,inner sep=0pt,font=\bfseries\fontsize{11}{12}\selectfont] at (995,388) {\$};
% last-price box
\fill[blue!55!black] (1072,261) rectangle (1123,277);
\draw[fr,line width=.8pt] (1072,261)--(1123,261) (1072,277)--(1123,277);
\tl{txt}{1074}{269}{140.83}
% legend line
\fill[gray!70] (8,403) circle (5.5);
\draw[black,line width=1pt] (5,402)--(8,405)--(11,402);
\tl{txt}{18}{403}{\cjk 股朋指标网}
\tl{gray}{83}{403}{\cjk 主力警戒\rmfamily: 46.39}
\tl{gray}{173}{403}{ADXR: 49.77}
\tl{magenta}{248}{403}{OKK0: 53.25}
\tl{cyan!75!black}{321}{403}{WOK: 43.25}
\tl{yellow}{391}{403}{\cjk 上轨\rmfamily: 40.71}
\tl{white}{457}{403}{\cjk 潜能上行\rmfamily: 28.31}
\tl{bline}{548}{403}{: 42.07}
\tl{white}{589}{403}{\cjk 主升能量\rmfamily: 50.08}
% dates
\tl{lab}{3}{638.5}{2025\cjk 年}
\tl{lab}{86}{638.5}{9}
\tl{lab}{199}{638.5}{10}
\tl{lab}{288}{638.5}{11}
\tl{lab}{391}{638.5}{12}
\tl{lab}{510}{638.5}{1}
\tl{lab}{614}{638.5}{2}
\tl{lab}{687}{638.5}{3}
\tl{lab}{801}{638.5}{4}
\fill[blue!55!black] (806,631) rectangle (884,647);
\draw[fr!40!white,line width=.6pt] (806,631) rectangle (884,647);
\tl{txt}{807}{639}{2026/04/02/\cjk 四}
\tl{lab}{909}{638.5}{5}
% watermark
\fill[black!92!white] (978,600) rectangle (1130,650);
\node[text=white,inner sep=0pt,font=\bfseries\fontsize{20.4}{22}\selectfont] at (1050,619) {\cjk 乐淘公式网};
\node[text=blue!15!white,inner sep=0pt,font=\bfseries\fontsize{13}{14}\selectfont] at (1046,640) {\fontspec{Liberation Serif}www.60lt.com};
\end{scope}
\end{tikzpicture}
\end{document}
